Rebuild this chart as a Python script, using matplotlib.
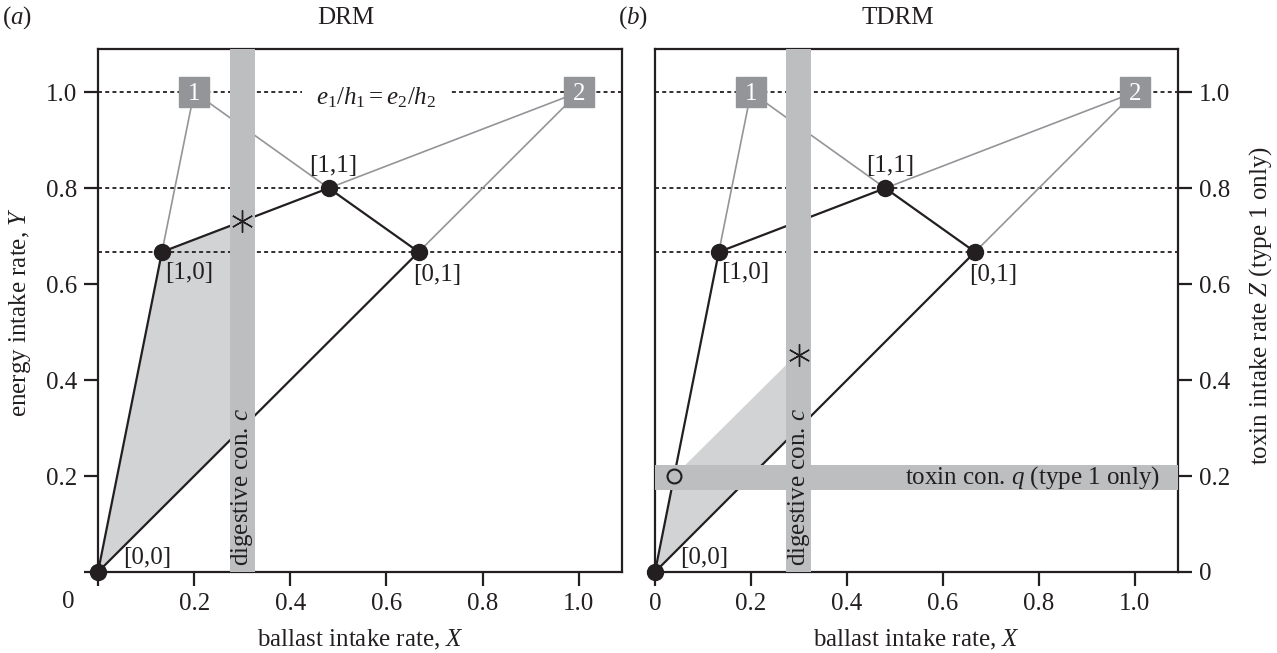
import matplotlib
matplotlib.use("Agg")
import matplotlib.pyplot as plt
from matplotlib.patches import Polygon

plt.rcParams['font.family'] = ['Liberation Serif', 'DejaVu Serif']
plt.rcParams['mathtext.fontset'] = 'custom'
plt.rcParams['mathtext.rm'] = 'Liberation Serif'
plt.rcParams['mathtext.it'] = 'Liberation Serif:italic'
plt.rcParams['mathtext.bf'] = 'Liberation Serif:bold'

# ---------------- data ----------------
diet_labels = ['[0,0]', '[1,0]', '[1,1]', '[0,1]']
diet_x = [0.0, 0.133, 0.48, 0.667]
diet_y = [0.0, 0.667, 0.8, 0.667]
label_x = [0.102, 0.189, 0.49, 0.705]
label_y = [0.03, 0.623, 0.846, 0.618]

item_labels = ['1', '2']
item_x = [0.2, 1.0]
item_y = [1.0, 1.0]

dotted_levels = [1.0, 0.8, 0.667]

digestive_c = 0.3
toxin_q = 0.197
band_half = 0.026

shade_a_x = [0.0, 0.133, 0.3, 0.3]
shade_a_y = [0.0, 0.667, 0.731, 0.3]
shade_b_x = [0.0, 0.04, 0.3, 0.3]
shade_b_y = [0.0, 0.2, 0.458, 0.3]

opt_a = (0.3, 0.731)
opt_b = (0.3, 0.452)
toxin_pt = (0.04, 0.2)

ticks = [0, 0.2, 0.4, 0.6, 0.8, 1.0]
tick_text = ['0', '0.2', '0.4', '0.6', '0.8', '1.0']

# ---------------- style ----------------
INK = '#231f20'
BAND = '#bcbec0'
SHADE = '#d1d3d4'
BOXC = '#939598'
GREYL = '#939598'
FS = 18

W, H = 1277, 653
fig = plt.figure(figsize=(W / 100, H / 100), dpi=100)
ax_a = fig.add_axes([98 / W, (H - 572) / H, 524 / W, 523 / H])
ax_b = fig.add_axes([655 / W, (H - 572) / H, 523 / W, 523 / H])


def draw_panel(ax, shade_x, shade_y, opt, toxin):
    ax.set_xlim(0, 1.09)
    ax.set_ylim(0, 1.09)
    for s in ax.spines.values():
        s.set_color(INK)
        s.set_linewidth(1.6)
    ax.add_patch(Polygon(list(zip(shade_x, shade_y)), closed=True,
                         facecolor=SHADE, edgecolor='none', zorder=1))
    for lv in dotted_levels:
        ax.axhline(lv, color=INK, lw=1.3, ls=(0, (2.2, 1.8)), zorder=2)
    p = list(zip(diet_x, diet_y))
    b1 = (item_x[0], item_y[0])
    b2 = (item_x[1], item_y[1])
    for a, c in [(b1, p[1]), (b1, p[2]), (b2, p[2]), (b2, p[3])]:
        ax.plot([a[0], c[0]], [a[1], c[1]], color=GREYL, lw=1.2, zorder=2)
    order = [0, 1, 2, 3, 0]
    ax.plot([diet_x[i] for i in order], [diet_y[i] for i in order],
            color=INK, lw=1.6, zorder=2.5)
    ax.axvspan(digestive_c - band_half, digestive_c + band_half,
               facecolor=BAND, edgecolor='none', zorder=3)
    ax.text(digestive_c, 0.012, 'digestive con. $c$', rotation=90,
            ha='center', va='bottom', fontsize=FS, color=INK, zorder=6)
    if toxin:
        ax.axhspan(toxin_q - band_half, toxin_q + band_half,
                   facecolor=BAND, edgecolor='none', zorder=3)
        ax.text(1.052, toxin_q, 'toxin con. $q$ (type 1 only)', ha='right',
                va='center', fontsize=FS, color=INK, zorder=6)
        ax.plot([toxin_pt[0]], [toxin_pt[1]], 'o', ms=10, mfc='none',
                mec=INK, mew=1.5, zorder=5)
    ax.plot(diet_x, diet_y, 'o', ms=11.5, color=INK, zorder=4, clip_on=False)
    for lab, lx, ly in zip(diet_labels, label_x, label_y):
        ax.text(lx, ly, lab, ha='center', va='center', fontsize=FS,
                color=INK, zorder=6)
    for lab, bx, by in zip(item_labels, item_x, item_y):
        ax.plot([bx], [by], 's', ms=21.5, color=BOXC, zorder=5)
        ax.text(bx, by - 0.003, lab, ha='center', va='center', fontsize=FS,
                color='white', zorder=6)
    ax.plot([opt[0]], [opt[1]], marker=(6, 2, 0), ms=16, color=INK,
            mew=1.0, zorder=5)
    ax.set_xticks(ticks)
    ax.set_yticks(ticks)
    ax.tick_params(direction='out', length=10, width=1.6, color=INK,
                   labelsize=FS, labelcolor=INK, pad=5)


draw_panel(ax_a, shade_a_x, shade_a_y, opt_a, False)
draw_panel(ax_b, shade_b_x, shade_b_y, opt_b, True)

ax_a.set_xticklabels([''] + tick_text[1:])
ax_a.set_yticklabels([''] + tick_text[1:])
ax_a.text(-0.0625, -0.0625, '0', ha='center', va='center', fontsize=FS,
          color=INK, clip_on=False)
ax_a.text(0.579, 0.988, '$e_1/h_1 = e_2/h_2$', ha='center', va='center',
          fontsize=FS, color=INK, zorder=6,
          bbox=dict(boxstyle='square,pad=0.55', facecolor='white',
                    edgecolor='none'))

ax_b.set_xticklabels(tick_text)
ax_b.yaxis.tick_right()
ax_b.set_yticklabels(tick_text)
ax_b.tick_params(axis='y', left=False, right=True)

fig.text(346 / W, 1 - 18 / H, 'DRM', ha='center', va='center', fontsize=FS, color=INK)
fig.text(898 / W, 1 - 18 / H, 'TDRM', ha='center', va='center', fontsize=FS, color=INK)
fig.text(17 / W, 1 - 18 / H, '($a$)', ha='center', va='center', fontsize=FS, color=INK)
fig.text(633 / W, 1 - 18 / H, '($b$)', ha='center', va='center', fontsize=FS, color=INK)
fig.text(360 / W, 1 - 640 / H, 'ballast intake rate, $X$', ha='center', va='center',
         fontsize=FS, color=INK)
fig.text(916 / W, 1 - 640 / H, 'ballast intake rate, $X$', ha='center', va='center',
         fontsize=FS, color=INK)
fig.text(20 / W, 1 - 312 / H, 'energy intake rate, $Y$', ha='center', va='center',
         rotation=90, fontsize=FS, color=INK)
fig.text(1261 / W, 1 - 306 / H, 'toxin intake rate $Z$ (type 1 only)', ha='center',
         va='center', rotation=90, fontsize=FS, color=INK)

fig.savefig('out.png', dpi=100)
